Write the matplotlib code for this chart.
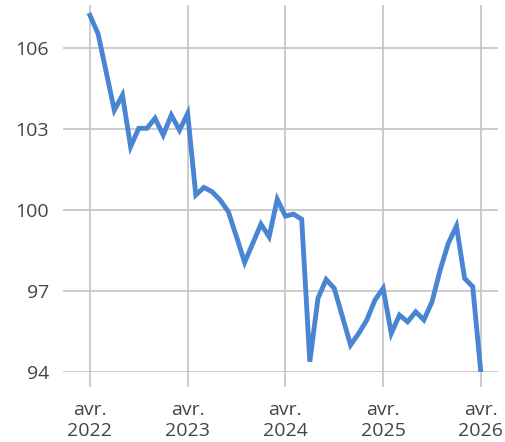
import matplotlib.pyplot as plt

# monthly index, avr. 2022 -> avr. 2026
values = [107.22, 106.54, 105.12, 103.70, 104.26, 102.35, 103.03, 103.03, 103.40,
          102.78, 103.52, 102.96, 103.58, 100.56, 100.84, 100.68, 100.37, 99.94,
          99.01, 98.06, 98.77, 99.48, 99.01, 100.40, 99.78, 99.85, 99.66, 94.38,
          96.73, 97.43, 97.10, 96.05, 95.00, 95.43, 95.93, 96.67, 97.10, 95.43,
          96.11, 95.86, 96.23, 95.93, 96.60, 97.78, 98.77, 99.41, 97.47, 97.16,
          93.97]
months = list(range(len(values)))
tick_pos = [0, 12, 24, 36, 48]
tick_labels = ['avr.\n2022', 'avr.\n2023', 'avr.\n2024', 'avr.\n2025', 'avr.\n2026']
y_ticks = [94, 97, 100, 103, 106]

plt.rcParams['font.family'] = ['Open Sans', 'DejaVu Sans']

fig = plt.figure(figsize=(5.05, 4.42), dpi=100)
ax = fig.add_axes([63 / 505, 70 / 442, 435 / 505, 367 / 442])

ax.plot(months, values, color='#4a85d3', linewidth=3.5, solid_joinstyle='miter',
        zorder=3)

ax.set_xlim(-3.3, 50.1)
ax.set_ylim(94, 107.6)
ax.set_xticks(tick_pos)
ax.set_xticklabels(tick_labels, linespacing=1.2)
ax.set_yticks(y_ticks)

ax.grid(True, color='#c8c8c8', linewidth=1.3, zorder=0)
for s in ax.spines.values():
    s.set_visible(False)

ax.tick_params(axis='x', length=11, width=1.3, color='#c8c8c8', pad=10,
               labelsize=14, labelcolor='#444444')
ax.tick_params(axis='y', length=0, pad=10, labelsize=14, labelcolor='#444444')

fig.savefig('out.png', dpi=100)
